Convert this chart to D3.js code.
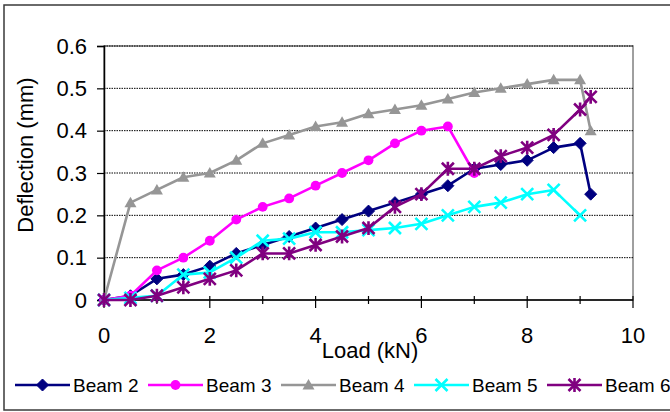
<!DOCTYPE html>
<html>
<head>
<meta charset="utf-8">
<script src="https://cdn.jsdelivr.net/npm/d3@7"></script>
<style>
  html, body { margin: 0; padding: 0; background: #fff; }
  svg { display: block; font-family: Arial, "Liberation Sans", sans-serif; }
</style>
</head>
<body>
<svg id="chart" width="670" height="412"></svg>
<script>
// Load steps (kN) shared by the beams
const loads = [0, 0.5, 1, 1.5, 2, 2.5, 3, 3.5, 4, 4.5, 5, 5.5, 6, 6.5, 7, 7.5, 8, 8.5, 9, 9.2];

// Mid-span deflection (mm) per beam; null where no reading was taken
const beam2 = [0, 0.01, 0.05, 0.06, 0.08, 0.11, 0.13, 0.15, 0.17, 0.19, 0.21, 0.23, 0.25, 0.27, 0.31, 0.32, 0.33, 0.36, 0.37, 0.25];
const beam3 = [0, 0.01, 0.07, 0.10, 0.14, 0.19, 0.22, 0.24, 0.27, 0.30, 0.33, 0.37, 0.40, 0.41, 0.30, null, null, null, null, null];
const beam4 = [0, 0.23, 0.26, 0.29, 0.30, 0.33, 0.37, 0.39, 0.41, 0.42, 0.44, 0.45, 0.46, 0.475, 0.49, 0.50, 0.51, 0.52, 0.52, 0.40];
const beam5 = [0, 0.005, 0.01, 0.06, 0.065, 0.10, 0.14, 0.145, 0.16, 0.16, 0.165, 0.17, 0.18, 0.20, 0.22, 0.23, 0.25, 0.26, 0.20, null];
const beam6 = [0, 0, 0.01, 0.03, 0.05, 0.07, 0.11, 0.11, 0.13, 0.15, 0.17, 0.22, 0.25, 0.31, 0.31, 0.34, 0.36, 0.39, 0.45, 0.48];

const seriesNames = ["Beam 2", "Beam 3", "Beam 4", "Beam 5", "Beam 6"];
const seriesValues = [beam2, beam3, beam4, beam5, beam6];
const seriesColors = ["#000080", "#ff00ff", "#969696", "#00ffff", "#800080"];
const seriesMarkers = ["diamond", "circle", "triangle", "cross", "star"];

const xTicks = [0, 2, 4, 6, 8, 10];
const xMinorTicks = [1, 3, 5, 7, 9];
const yTicks = [0, 0.1, 0.2, 0.3, 0.4, 0.5, 0.6];

const svg = d3.select("#chart");

// Outer chart frame
svg.append("rect")
  .attr("x", 4).attr("y", 5).attr("width", 700).attr("height", 405)
  .attr("fill", "#fff").attr("stroke", "#3a3a3a").attr("stroke-width", 1.5);

const plot = { left: 104, right: 633, top: 46, bottom: 300 };
const x = d3.scaleLinear().domain([0, 10]).range([plot.left, plot.right]);
const y = d3.scaleLinear().domain([0, 0.6]).range([plot.bottom, plot.top]);

// Plot area border
svg.append("rect")
  .attr("x", plot.left).attr("y", plot.top)
  .attr("width", plot.right - plot.left).attr("height", plot.bottom - plot.top)
  .attr("fill", "none").attr("stroke", "#808080").attr("stroke-width", 1.5);

// Horizontal gridlines
svg.append("g")
  .selectAll("line")
  .data(yTicks.filter(d => d > 0))
  .join("line")
  .attr("x1", plot.left).attr("x2", plot.right)
  .attr("y1", d => y(d)).attr("y2", d => y(d))
  .attr("stroke", "#000").attr("stroke-width", 1)
  .attr("stroke-dasharray", "1.5,1");

// Y axis
const yAxis = svg.append("g")
  .attr("transform", `translate(${plot.left},0)`)
  .call(d3.axisLeft(y).tickValues(yTicks).tickFormat(d3.format("~g")).tickSize(7).tickPadding(10));
yAxis.select(".domain").attr("stroke", "#000").attr("stroke-width", 1.5);
yAxis.selectAll(".tick line").attr("stroke", "#000").attr("stroke-width", 1.2);
yAxis.selectAll("text").attr("font-size", 22).attr("fill", "#000")
  .attr("font-family", "Arial, 'Liberation Sans', sans-serif");

// X axis: major ticks cross the axis and drop below, minor ticks cross it
const xAxisG = svg.append("g").attr("transform", `translate(0,${plot.bottom})`);
xAxisG.append("line")
  .attr("x1", plot.left).attr("x2", plot.right)
  .attr("stroke", "#000").attr("stroke-width", 1.5);
xAxisG.selectAll("line.major")
  .data(xTicks).join("line").attr("class", "major")
  .attr("x1", d => x(d)).attr("x2", d => x(d))
  .attr("y1", -4).attr("y2", 8)
  .attr("stroke", "#000").attr("stroke-width", 1.2);
xAxisG.selectAll("line.minor")
  .data(xMinorTicks).join("line").attr("class", "minor")
  .attr("x1", d => x(d)).attr("x2", d => x(d))
  .attr("y1", -4).attr("y2", 4)
  .attr("stroke", "#000").attr("stroke-width", 1.2);
xAxisG.selectAll("text")
  .data(xTicks).join("text")
  .attr("x", d => x(d)).attr("y", 43)
  .attr("text-anchor", "middle")
  .attr("font-size", 22).attr("fill", "#000")
  .text(d3.format("~g"));

// Axis titles
svg.append("text")
  .attr("x", 370).attr("y", 358)
  .attr("text-anchor", "middle").attr("font-size", 22).attr("fill", "#000")
  .text("Load (kN)");
svg.append("text")
  .attr("transform", "translate(33,155) rotate(-90)")
  .attr("text-anchor", "middle").attr("font-size", 22).attr("fill", "#000")
  .text("Deflection (mm)");

// Marker shapes
function drawMarker(sel, type, color, size) {
  const s = size;
  if (type === "diamond") {
    sel.append("path").attr("d", `M0,${-s}L${s},0L0,${s}L${-s},0Z`).attr("fill", color).attr("stroke", color).attr("stroke-width", 1);
  } else if (type === "circle") {
    sel.append("circle").attr("r", s * 0.82).attr("fill", color);
  } else if (type === "triangle") {
    sel.append("path").attr("d", `M0,${-s}L${s},${s * 0.75}L${-s},${s * 0.75}Z`).attr("fill", color);
  } else if (type === "cross") {
    sel.append("path").attr("d", `M${-s},${-s}L${s},${s}M${-s},${s}L${s},${-s}`)
      .attr("stroke", color).attr("stroke-width", 2.6).attr("fill", "none");
  } else if (type === "star") {
    sel.append("path").attr("d", `M${-s},${-s}L${s},${s}M${-s},${s}L${s},${-s}M0,${-s * 1.15}L0,${s * 1.15}`)
      .attr("stroke", color).attr("stroke-width", 2.6).attr("fill", "none");
  }
}

const line = d3.line()
  .defined(d => d.v !== null)
  .x(d => x(d.x)).y(d => y(d.v));

seriesValues.forEach((vals, i) => {
  const pts = loads.map((l, j) => ({ x: l, v: vals[j] }));
  const g = svg.append("g");
  g.append("path")
    .datum(pts)
    .attr("d", line)
    .attr("fill", "none")
    .attr("stroke", seriesColors[i])
    .attr("stroke-width", 2.6)
    .attr("stroke-linejoin", "round");
  const markerSize = seriesMarkers[i] === "circle" ? 6 : 6;
  g.selectAll("g.pt")
    .data(pts.filter(d => d.v !== null))
    .join("g").attr("class", "pt")
    .attr("transform", d => `translate(${x(d.x)},${y(d.v)})`)
    .each(function () { drawMarker(d3.select(this), seriesMarkers[i], seriesColors[i], markerSize); });
});

// Legend
const legendX0 = 15, legendStep = 133, legendY = 385;
const legend = svg.append("g");
seriesNames.forEach((name, i) => {
  const lg = legend.append("g").attr("transform", `translate(${legendX0 + i * legendStep},${legendY})`);
  lg.append("line").attr("x1", 0).attr("x2", 55)
    .attr("stroke", seriesColors[i]).attr("stroke-width", 2.6);
  const m = lg.append("g").attr("transform", "translate(27.5,0)");
  drawMarker(m, seriesMarkers[i], seriesColors[i], 6);
  lg.append("text").attr("x", 58).attr("y", 7)
    .attr("font-size", 19).attr("fill", "#000")
    .text(name);
});
</script>
</body>
</html>
